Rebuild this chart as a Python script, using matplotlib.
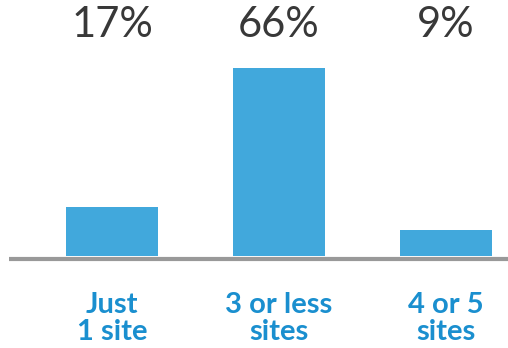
import matplotlib
matplotlib.use("Agg")
import matplotlib.pyplot as plt

categories = ["Just\n1 site", "3 or less\nsites", "4 or 5\nsites"]
values = [17, 66, 9]
value_labels = ["17%", "66%", "9%"]

bar_color = "#41a8dc"
label_color = "#1a8fcf"

fig = plt.figure(figsize=(5.08, 3.48), dpi=100)
ax = fig.add_axes([0, 0, 1, 1])

x = list(range(len(values)))
ax.bar(x, values, width=0.55, color=bar_color, zorder=2)

# baseline, sits just under the bars
ax.plot([-0.617, 2.371], [-0.95, -0.95], color="#999999", lw=3,
        solid_capstyle="butt", zorder=3)

# percentages along the top
for xi, lab in zip(x, value_labels):
    ax.text(xi, 81.2, lab, ha="center", va="center", fontsize=30,
            family="Lato", color="#383838")

# category labels
for xi, cat in zip(x, categories):
    ax.text(xi, -21.8, cat, ha="center", va="center", fontsize=21,
            family="Lato", fontweight="bold", color=label_color,
            linespacing=1.05)

ax.set_xlim(-0.671, 2.371)
ax.set_ylim(-32.3, 89.8)
ax.axis("off")

fig.savefig("out.png", dpi=100)
